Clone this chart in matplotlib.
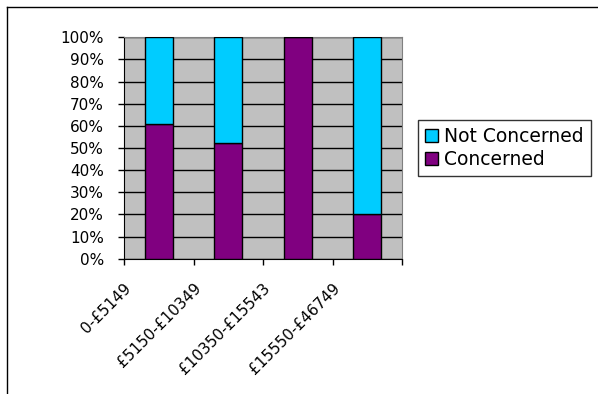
import matplotlib.pyplot as plt
import matplotlib.transforms as mtransforms
from matplotlib.lines import Line2D
from matplotlib.ticker import MultipleLocator, PercentFormatter

# income bands and share of respondents in each (percent)
bands = ['0-£5149', '£5150-£10349', '£10350-£15543', '£15550-£46749']
concerned = [61, 52.4, 100, 20]
not_concerned = [39, 47.6, 0, 80]

plt.rcParams['font.family'] = ['DejaVu Sans']

fig = plt.figure(figsize=(5.98, 3.94), dpi=100)
ax = fig.add_axes([0.2074, 0.3434, 0.4649, 0.5619])
ax.set_facecolor('#C0C0C0')

x = list(range(len(bands)))
ax.bar(x, concerned, width=0.4, color='#800080', edgecolor='black',
       linewidth=1, label='Concerned', zorder=3)
ax.bar(x, not_concerned, width=0.4, bottom=concerned, color='#00CCFF',
       edgecolor='black', linewidth=1, label='Not Concerned', zorder=3)

ax.set_xlim(-0.5, len(bands) - 0.5)
ax.set_ylim(0, 100)
ax.yaxis.set_major_locator(MultipleLocator(10))
ax.yaxis.set_major_formatter(PercentFormatter(decimals=0))
ax.grid(axis='y', color='black', linewidth=1, zorder=1)

# category ticks sit between bars, labels under each bar
ax.set_xticks([i - 0.5 for i in range(len(bands) + 1)])
ax.set_xticklabels([])
ax.set_xticks(x, minor=True)
ax.set_xticklabels(bands, minor=True, rotation=45, ha='right',
                   rotation_mode='anchor', fontsize=11)
ax.tick_params(axis='x', which='minor', length=0, pad=0)
ax.tick_params(axis='x', which='major', length=4.5, width=1, direction='out')
ax.tick_params(axis='y', length=4.5, width=1, direction='out', labelsize=11, pad=10)
offset = mtransforms.ScaledTranslation(-35 / 100, -22 / 100, fig.dpi_scale_trans)
for lbl in ax.get_xticklabels(minor=True):
    lbl.set_transform(lbl.get_transform() + offset)

for side in ('top', 'right'):
    ax.spines[side].set_color('#808080')
for side in ('left', 'bottom'):
    ax.spines[side].set_color('black')

handles, labels = ax.get_legend_handles_labels()
leg = fig.legend(handles[::-1], labels[::-1], loc='upper left',
                 bbox_to_anchor=(418 / 598, 1 - 120 / 394), fontsize=13.5,
                 frameon=True, fancybox=False, edgecolor='black',
                 handlelength=0.7, handleheight=0.7, handletextpad=0.3,
                 borderpad=0.38, labelspacing=0.22, borderaxespad=0)
leg.get_frame().set_linewidth(1)

# chart-area border, left and top edges
fig.add_artist(Line2D([7 / 598, 7 / 598], [0, 1 - 7 / 394], color='black', lw=1))
fig.add_artist(Line2D([7 / 598, 1], [1 - 7 / 394, 1 - 7 / 394], color='black', lw=1))

fig.savefig('out.png', dpi=100)
